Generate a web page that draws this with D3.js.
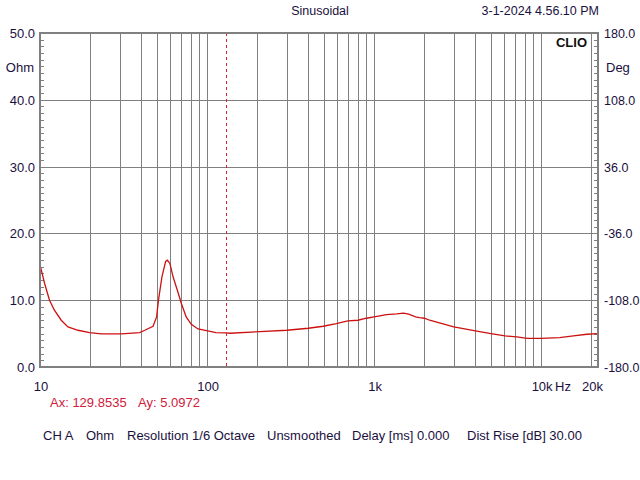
<!DOCTYPE html>
<html>
<head>
<meta charset="utf-8">
<script src="https://cdn.jsdelivr.net/npm/d3@7"></script>
<style>
  body { margin: 0; background: white; }
  svg { display: block; font-family: "Liberation Sans", Arial, sans-serif; }
</style>
</head>
<body>
<svg width="640" height="480"></svg>
<script>
var PLOT = {left: 40, top: 33, right: 598, bottom: 367},
    GRID_COLOR = "#808080",
    TEXT_COLOR = "#1a1040",
    CURVE_COLOR = "#cc1111",
    CURSOR_COLOR = "#d0203a",
    LABEL_SIZE = "13px";

// impedance curve
var freqs = [10, 10.66, 11.4, 12.2, 13.4, 14.7, 16.9, 19.8, 23.3, 30.7, 39.5, 42.4, 47.5, 49.9,
    51.2, 53.7, 56.5, 57.9, 59.9, 62.6, 66.4, 70.2, 75, 80.5, 88.3, 101, 113, 130, 137, 207,
    300, 404, 496, 594, 697, 800, 900, 1000, 1187, 1365, 1500, 1611, 1770, 1870, 2000, 2150,
    3000, 3970, 5000, 6090, 7150, 8240, 10000, 12900, 15600, 18800, 21900];
var ohms = [15.3, 12.5, 10.0, 8.5, 7.0, 6.0, 5.5, 5.15, 4.95, 4.95, 5.15, 5.5, 6.1, 7.5,
    10.0, 13.5, 15.8, 16.0, 15.5, 13.5, 11.5, 9.5, 7.5, 6.4, 5.7, 5.4, 5.15, 5.1, 5.05, 5.3,
    5.5, 5.8, 6.1, 6.5, 6.9, 7.0, 7.3, 7.5, 7.85, 7.95, 8.05, 7.9, 7.5, 7.4, 7.3, 7.0,
    6.0, 5.45, 5.0, 4.65, 4.5, 4.3, 4.3, 4.4, 4.65, 4.9, 5.0];

var gridFreqs = [20, 30, 40, 50, 60, 70, 80, 90, 100, 200, 300, 400, 500, 600, 700, 800, 900,
    1000, 2000, 3000, 4000, 5000, 6000, 7000, 8000, 9000, 10000, 20000];
var freqTicks = [10, 100, 1000, 10000, 20000];
var freqLabels = ["10", "100", "1k", "10k", "20k"];
var ohmTicks = [0, 10, 20, 30, 40, 50];
var degTicks = [-180, -108, -36, 36, 108, 180];
var cursorX = 129.8535, cursorY = 5.0972;
var statusItems = ["CH A", "Ohm", "Resolution 1/6 Octave", "Unsmoothed", "Delay [ms] 0.000", "Dist Rise [dB] 30.00"];
var statusX = [43, 86, 127, 267, 352, 467];

var x = d3.scaleLog()
    .domain([10, 21900])
    .range([PLOT.left, PLOT.right]);
var y = d3.scaleLinear()
    .domain([0, 50])
    .range([PLOT.bottom, PLOT.top]);
var yDeg = d3.scaleLinear()
    .domain([-180, 180])
    .range([PLOT.bottom, PLOT.top]);

var svg = d3.select("svg");

// header
svg.append("text")
    .attr("x", 320).attr("y", 15)
    .style("text-anchor", "middle")
    .style("font-size", "12.5px")
    .style("fill", TEXT_COLOR)
    .text("Sinusoidal");
svg.append("text")
    .attr("x", 599).attr("y", 15)
    .style("text-anchor", "end")
    .style("font-size", "12.5px")
    .style("fill", TEXT_COLOR)
    .text("3-1-2024 4.56.10 PM");

// grid
svg.selectAll(".vgrid")
    .data(gridFreqs)
  .enter().append("line")
    .attr("class", "vgrid")
    .attr("x1", function(d) { return Math.round(x(d)) + 0.5; })
    .attr("x2", function(d) { return Math.round(x(d)) + 0.5; })
    .attr("y1", PLOT.top)
    .attr("y2", PLOT.bottom)
    .style("stroke", GRID_COLOR)
    .style("stroke-width", 1);
svg.selectAll(".hgrid")
    .data(ohmTicks.slice(1, -1))
  .enter().append("line")
    .attr("class", "hgrid")
    .attr("x1", PLOT.left)
    .attr("x2", PLOT.right)
    .attr("y1", function(d) { return Math.round(y(d)) + 0.5; })
    .attr("y2", function(d) { return Math.round(y(d)) + 0.5; })
    .style("stroke", GRID_COLOR)
    .style("stroke-width", 1);

// minor ticks inside left and right edges
svg.selectAll(".lminor")
    .data(d3.range(0, 51, 1))
  .enter().append("line")
    .attr("class", "lminor")
    .attr("x1", PLOT.left)
    .attr("x2", PLOT.left + 4)
    .attr("y1", function(d) { return Math.round(y(d)) + 0.5; })
    .attr("y2", function(d) { return Math.round(y(d)) + 0.5; })
    .style("stroke", GRID_COLOR);
svg.selectAll(".rminor")
    .data(d3.range(-180, 181, 7.2))
  .enter().append("line")
    .attr("class", "rminor")
    .attr("x1", PLOT.right - 4)
    .attr("x2", PLOT.right)
    .attr("y1", function(d) { return Math.round(yDeg(d)) + 0.5; })
    .attr("y2", function(d) { return Math.round(yDeg(d)) + 0.5; })
    .style("stroke", GRID_COLOR);

// cursor
svg.append("line")
    .attr("x1", Math.round(x(cursorX)) + 0.5)
    .attr("x2", Math.round(x(cursorX)) + 0.5)
    .attr("y1", PLOT.top)
    .attr("y2", PLOT.bottom)
    .style("stroke", CURSOR_COLOR)
    .style("stroke-width", 1)
    .style("stroke-dasharray", "3,3");

// impedance curve
var line = d3.line()
    .x(function(d, i) { return x(freqs[i]); })
    .y(function(d) { return y(d); });
svg.append("path")
    .datum(ohms)
    .attr("d", line)
    .style("fill", "none")
    .style("stroke", CURVE_COLOR)
    .style("stroke-width", 1.3);

// frame
svg.append("rect")
    .attr("x", PLOT.left)
    .attr("y", PLOT.top)
    .attr("width", PLOT.right - PLOT.left)
    .attr("height", PLOT.bottom - PLOT.top)
    .style("fill", "none")
    .style("stroke", GRID_COLOR)
    .style("stroke-width", 2);

svg.append("text")
    .attr("x", 587).attr("y", 47)
    .style("text-anchor", "end")
    .style("font-size", "13px")
    .style("font-weight", "bold")
    .style("fill", "#111")
    .text("CLIO");

// left axis labels
svg.selectAll(".ylab")
    .data(ohmTicks)
  .enter().append("text")
    .attr("class", "ylab")
    .attr("x", 35)
    .attr("y", function(d) { return y(d) + 5; })
    .style("text-anchor", "end")
    .style("font-size", LABEL_SIZE)
    .style("fill", TEXT_COLOR)
    .text(function(d) { return d.toFixed(1); });
svg.append("text")
    .attr("x", 34).attr("y", 72)
    .style("text-anchor", "end")
    .style("font-size", LABEL_SIZE)
    .style("fill", TEXT_COLOR)
    .text("Ohm");

// right axis labels
svg.selectAll(".dlab")
    .data(degTicks)
  .enter().append("text")
    .attr("class", "dlab")
    .attr("x", 604)
    .attr("y", function(d) { return yDeg(d) + 5; })
    .style("font-size", "12.5px")
    .style("fill", TEXT_COLOR)
    .text(function(d) { return d.toFixed(1); });
svg.append("text")
    .attr("x", 606).attr("y", 72)
    .style("font-size", LABEL_SIZE)
    .style("fill", TEXT_COLOR)
    .text("Deg");

// frequency labels
svg.selectAll(".xlab")
    .data(freqTicks)
  .enter().append("text")
    .attr("class", "xlab")
    .attr("x", function(d) { return x(d) + 1; })
    .attr("y", 391)
    .style("text-anchor", "middle")
    .style("font-size", LABEL_SIZE)
    .style("fill", TEXT_COLOR)
    .text(function(d, i) { return freqLabels[i]; });
svg.append("text")
    .attr("x", 555).attr("y", 391)
    .style("font-size", LABEL_SIZE)
    .style("fill", TEXT_COLOR)
    .text("Hz");

// cursor readout
svg.append("text")
    .attr("x", 50).attr("y", 407)
    .style("font-size", LABEL_SIZE)
    .style("fill", CURSOR_COLOR)
    .text("Ax: " + cursorX.toFixed(4));
svg.append("text")
    .attr("x", 138).attr("y", 407)
    .style("font-size", LABEL_SIZE)
    .style("fill", CURSOR_COLOR)
    .text("Ay: " + cursorY.toFixed(4));

// status line
svg.selectAll(".status")
    .data(statusItems)
  .enter().append("text")
    .attr("class", "status")
    .attr("x", function(d, i) { return statusX[i]; })
    .attr("y", 440)
    .style("font-size", LABEL_SIZE)
    .style("fill", TEXT_COLOR)
    .text(function(d) { return d; });
</script>
</body>
</html>
